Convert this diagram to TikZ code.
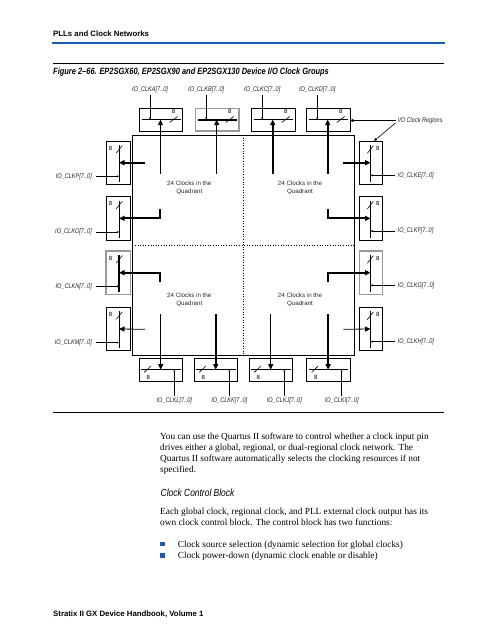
\documentclass[tikz,border=0pt]{standalone}
\usepackage{fontspec}
\setmainfont{Liberation Serif}
\newfontfamily\hv{Liberation Sans}
\newfontfamily\hvc[FakeStretch=0.82]{Liberation Sans}
\usetikzlibrary{arrows.meta,calc}
\definecolor{altblue}{RGB}{22,92,178}
\tikzset{
 boxn/.style={draw=black,line width=0.8pt,inner sep=0pt,outer sep=0pt},
 boxg/.style={draw=black!40,line width=1.4pt,inner sep=0pt,outer sep=0pt},
 barboxn/.style={line width=0.9pt},
 barboxg/.style={line width=1.8pt},
 iolbl/.style={font=\hvc\itshape\fontsize{6.8}{7}\selectfont, inner sep=0pt, text=black!85},
 eight/.style={font=\hv\fontsize{6}{6}\selectfont, inner sep=0pt},
 big/.style={-{Triangle[length=5.5pt,width=5pt]}},
 tiny/.style={line width=0.7pt,-{Triangle[length=2pt,width=1.8pt]}},
 thinw/.style={line width=0.8pt},
 thickw/.style={line width=2pt},
 slashl/.style={line width=0.6pt},
 quad/.style={font=\hv\fontsize{6.2}{8}\selectfont, align=center, inner sep=0pt, text=black!85},
 body/.style={font=\fontsize{9.3}{11}\selectfont, anchor=base west, inner sep=0pt},
 sanshead/.style={font=\hv\bfseries\fontsize{7.8}{9}\selectfont, anchor=base west, inner sep=0pt},
}
\newcommand\TopBox[5]{%
 \node[box#4, minimum width=43.2pt, minimum height=22.7pt, anchor=north west] (#1) at (#2,108.3) {};
 \draw[barbox#4] ($(#1.west)+(2,0)$) -- ($(#1.east)+(-2,0)$);
 \node[iolbl] (#1lab) at (#2+10.5,89.5) {#5};
 \coordinate (#1in) at (#2+10.5,119.65);
 \draw[tiny] ($(#1lab.south)+(0,2)$) -- (#1in);
 \coordinate (#1src) at (#2+21,174);
 \coordinate (#1dst) at (#2+21,119.65);
 \draw[#3,big] (#1src) -- (#1dst);
 \draw[slashl] (#2+30,122.5) -- (#2+38,116.5);
 \node[eight] (#1eight) at (#2+34,111.5) {8};
}
\newcommand\LeftBox[4]{%
 \node[box#3, minimum width=24.7pt, minimum height=43.3pt, anchor=north west] (#1) at (106,#2) {};
 \draw[barbox#3] (119,#2+4) -- (119,#2+41);
 \coordinate (#1in) at (119,#2+35.3);
 \node[iolbl, anchor=east] (#1lab) at (92,#2+35.3) {#4};
 \draw[tiny] ($(#1lab.east)+(4,0)$) -- (#1in);
 \coordinate (#1dst) at (119,#2+21.7);
 \draw[slashl] (116.3,#2+12) -- (122.3,#2+4.5);
 \node[eight] (#1eight) at (110.5,#2+7) {8};
}
\newcommand\RightBox[4]{%
 \node[box#3, minimum width=23.4pt, minimum height=43.3pt, anchor=north west] (#1) at (359.3,#2) {};
 \draw[barbox#3] (370.5,#2+4) -- (370.5,#2+41);
 \coordinate (#1in) at (370.5,#2+34.3);
 \node[iolbl, anchor=west] (#1lab) at (397.5,#2+34.3) {#4};
 \draw[tiny] ($(#1lab.west)+(-3,0)$) -- (#1in);
 \coordinate (#1dst) at (370.5,#2+21.7);
 \draw[slashl] (367.3,#2+12.3) -- (373.3,#2+4.7);
 \node[eight] (#1eight) at (377.7,#2+7) {8};
}
\newcommand\BotBox[4]{%
 \node[boxn, minimum width=43.4pt, minimum height=22.7pt, anchor=north west] (#1) at (#2,358.3) {};
 \draw[barboxn] ($(#1.west)+(2,0)$) -- ($(#1.east)+(-2,0)$);
 \coordinate (#1in) at (#2+35,369.65);
 \node[iolbl] (#1lab) at (#2+35,401) {#4};
 \draw[tiny] ($(#1lab.north)+(0,-2)$) -- (#1in);
 \coordinate (#1src) at (#2+21.4,314);
 \coordinate (#1dst) at (#2+21.4,369.65);
 \draw[#3,big] (#1src) -- (#1dst);
 \draw[slashl] (#2+5,372.3) -- (#2+11.5,366);
 \node[eight] (#1eight) at (#2+9,377) {8};
}
\begin{document}
\begin{tikzpicture}[x=1pt,y=-1pt]
\useasboundingbox (0,0) rectangle (497,639);
% header
\node[sanshead] (hdr) at (53,36.3) {PLLs and Clock Networks};
\draw[altblue, line width=2pt] (52,42.7) -- (445,42.7);
\draw[line width=0.6pt] (53,63.3) -- (444,63.3);
\node[font=\hvc\bfseries\itshape\fontsize{9.1}{10}\selectfont, anchor=base west, inner sep=0pt] (cap) at (53,74.8) {Figure 2–66. EP2SGX60, EP2SGX90 and EP2SGX130 Device I/O Clock Groups};
% core
\node[draw, line width=0.8pt, minimum width=222pt, minimum height=220pt, anchor=north west, inner sep=0pt, outer sep=0pt] (core) at (132.3,135) {};
\draw[dotted, line width=0.6pt] (core.north) -- (core.south);
\draw[dotted, line width=0.6pt] (core.west) -- (core.east);
\node[quad] (q1) at (189.3,188.3) {24 Clocks in the\\Quadrant};
\node[quad] (q2) at (300,188.3) {24 Clocks in the\\Quadrant};
\node[quad] (q3) at (189.3,299.7) {24 Clocks in the\\Quadrant};
\node[quad] (q4) at (300,299.7) {24 Clocks in the\\Quadrant};
% top
\TopBox{A}{139.5}{thinw}{n}{IO\_CLKA[7..0]}
\TopBox{B}{195.7}{thinw}{g}{IO\_CLKB[7..0]}
\TopBox{C}{251.7}{thickw}{n}{IO\_CLKC[7..0]}
\TopBox{D}{306.7}{thickw}{n}{IO\_CLKD[7..0]}
% left
\LeftBox{P}{141}{n}{IO\_CLKP[7..0]}
\LeftBox{O}{196.7}{n}{IO\_CLKO[7..0]}
\LeftBox{N}{251}{g}{IO\_CLKN[7..0]}
\LeftBox{M}{307.3}{n}{IO\_CLKM[7..0]}
% right
\RightBox{E}{141}{n}{IO\_CLKE[7..0]}
\RightBox{F}{196.7}{n}{IO\_CLKF[7..0]}
\RightBox{G}{251}{g}{IO\_CLKG[7..0]}
\RightBox{H}{307.3}{n}{IO\_CLKH[7..0]}
% bottom
\BotBox{L}{139.3}{thinw}{IO\_CLKL[7..0]}
\BotBox{K}{194.3}{thickw}{IO\_CLKK[7..0]}
\BotBox{J}{249.3}{thinw}{IO\_CLKJ[7..0]}
\BotBox{I}{306.7}{thickw}{IO\_CLKI[7..0]}
% side connectors
\coordinate (Psrc) at (145,162.7);
\coordinate (Osrc) at (160,209);
\coordinate (Nsrc) at (160,281.7);
\coordinate (Msrc) at (145,329.3);
\coordinate (Esrc) at (343.3,162.7);
\coordinate (Fsrc) at (327.7,209);
\coordinate (Gsrc) at (327.7,281.7);
\coordinate (Hsrc) at (343.3,329.3);
\draw[thickw,big] (Psrc) -- (Pdst);
\draw[thickw,big] (Osrc) |- (Odst);
\draw[thickw,big] (Nsrc) |- (Ndst);
\draw[thinw,big] (Msrc) -- (Mdst);
\draw[thickw,big] (Esrc) -- (Edst);
\draw[thickw,big] (Fsrc) |- (Fdst);
\draw[thickw,big] (Gsrc) |- (Gdst);
\draw[thinw,big] (Hsrc) -- (Hdst);
% I/O clock regions
\node[iolbl, anchor=west] (regions) at (397.5,120.5) {I/O Clock Regions};
\draw[line width=0.6pt,-{Triangle[length=3.5pt,width=3pt]}] ($(regions.west)+(-2,0)$) -- (D.east |- regions.west);
\draw[line width=0.6pt,-{Triangle[length=3pt,width=2.5pt]}] ($(regions.west)+(-2,2.5)$) -- ($(E.north)+(3,0)$);
% bottom rule
\draw[line width=0.6pt] (53,412.7) -- (444,412.7);
% body text
\node[body] (t1) at (160,439.3) {You can use the Quartus II software to control whether a clock input pin};
\node[body] (t2) at (160,450.3) {drives either a global, regional, or dual-regional clock network. The};
\node[body] (t3) at (160,461.3) {Quartus II software automatically selects the clocking resources if not};
\node[body] (t4) at (160,472.2) {specified.};
\node[font=\hvc\itshape\fontsize{10.3}{12}\selectfont, anchor=base west, inner sep=0pt] (h2) at (160.5,496.8) {Clock Control Block};
\node[body] (t5) at (160,514.7) {Each global clock, regional clock, and PLL external clock output has its};
\node[body] (t6) at (160,525.3) {own clock control block. The control block has two functions:};
\node[fill=altblue, minimum size=4.7pt, inner sep=0pt] (b1) at (162.7,544) {};
\node[fill=altblue, minimum size=4.7pt, inner sep=0pt] (b2) at (162.7,555.3) {};
\node[body] (t7) at (177.7,547) {Clock source selection (dynamic selection for global clocks)};
\node[body] (t8) at (177.7,558.3) {Clock power-down (dynamic clock enable or disable)};
% footer
\node[sanshead] (ftr) at (53,616) {Stratix II GX Device Handbook, Volume 1};
\end{tikzpicture}
\end{document}
